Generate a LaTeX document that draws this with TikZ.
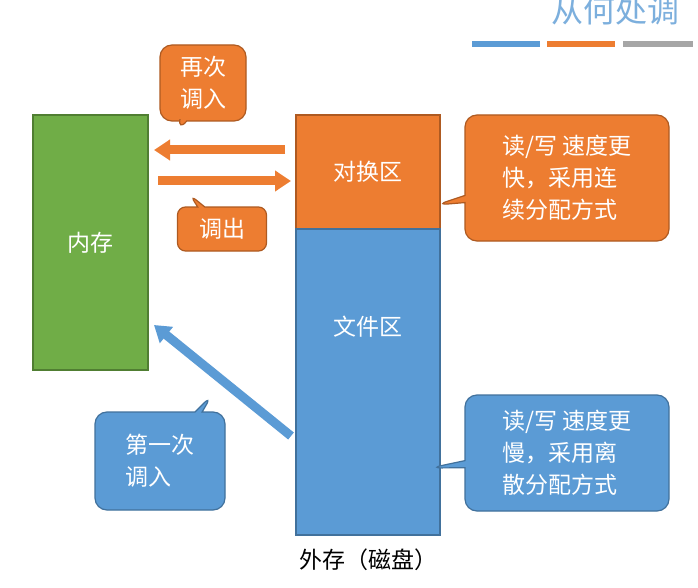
\documentclass[tikz,border=0pt]{standalone}
\usepackage{fontspec}
\setmainfont{Noto Sans CJK SC}
\usetikzlibrary{shapes.callouts,arrows.meta}
\definecolor{org}{HTML}{ED7D31}\definecolor{orgd}{HTML}{AE5A21}
\definecolor{blu}{HTML}{5B9BD5}\definecolor{blud}{HTML}{41719C}
\definecolor{grn}{HTML}{70AD47}\definecolor{grnd}{HTML}{507E32}
\begin{document}
\begin{tikzpicture}[x=1pt,y=-1pt,
  box/.style={draw,line width=1.2pt,text=white,font=\fontsize{23}{28}\selectfont},
  call/.style={rectangle callout,rounded corners=12pt,line width=1.2pt,text=white,align=left,inner sep=0pt,font=\fontsize{23}{32}\selectfont},
  barrow/.style={line width=9pt,-{Triangle[length=16pt,width=20pt]}}]
\useasboundingbox[fill=white] (0,0) rectangle (698,588);
\begin{scope}
\clip (0,0) rectangle (698,588);
\node[text=blu!80,font=\fontsize{32}{32}\selectfont,anchor=west] (title) at (548,10) {从何处调};
\end{scope}
\fill[blu] (472,41) rectangle (540,47);
\fill[org] (547,41) rectangle (615,47);
\fill[gray!70] (623,41) rectangle (693,47);
\node[box,fill=grn,draw=grnd,minimum width=115pt,minimum height=255pt] (mem) at (90.5,242.5) {内存};
\node[box,fill=org,draw=orgd,minimum width=144pt,minimum height=114pt] (swap) at (368,172) {对换区};
\node[box,fill=blu,draw=blud,minimum width=144pt,minimum height=306pt] (file) at (368,382) {};
\node[text=white,font=\fontsize{23}{28}\selectfont] (filet) at (368,327) {文件区};
\node[font=\fontsize{23}{28}\selectfont] (ext) at (368,560) {外存（磁盘）};
\coordinate (a1s) at (285,150); \coordinate (a1e) at (154,150);
\coordinate (a2s) at (158,181); \coordinate (a2e) at (291,181);
\draw[barrow,org] (a1s) -- (a1e);
\draw[barrow,org] (a2s) -- (a2e);
\coordinate (a3s) at (291,436); \coordinate (a3e) at (154,325);
\draw[barrow,blu] (a3s) -- (a3e);
\node[call,fill=org,draw=orgd,minimum width=86pt,minimum height=76pt,align=center,callout absolute pointer={(178,131)}] (c1) at (203,83) {再次\\调入};
\node[call,fill=org,draw=orgd,minimum width=89pt,minimum height=44pt,callout absolute pointer={(190,195)},rounded corners=8pt] (c2) at (222,229) {调出};
\node[call,fill=org,draw=orgd,minimum width=204pt,minimum height=126pt,callout absolute pointer={(436,205)}] (c3) at (567,178) {读/写 速度更\\快，采用连\\续分配方式};
\node[call,fill=blu,draw=blud,minimum width=130pt,minimum height=98pt,callout absolute pointer={(212,395)}] (c4) at (160,461) {第一次\\调入};
\node[call,fill=blu,draw=blud,minimum width=204pt,minimum height=116pt,callout absolute pointer={(430,468)}] (c5) at (567,453) {读/写 速度更\\慢，采用离\\散分配方式};
\end{tikzpicture}
\end{document}
